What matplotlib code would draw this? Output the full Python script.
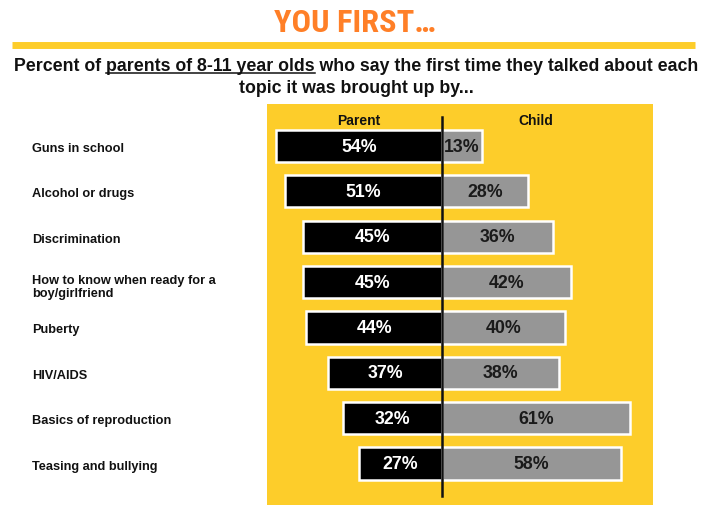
import matplotlib
matplotlib.use("Agg")
import matplotlib.pyplot as plt
from matplotlib import font_manager

# Survey data: who first brought up each topic
topics = [
    "Guns in school",
    "Alcohol or drugs",
    "Discrimination",
    "How to know when ready for a\nboy/girlfriend",
    "Puberty",
    "HIV/AIDS",
    "Basics of reproduction",
    "Teasing and bullying",
]
parent_pct = [54, 51, 45, 45, 44, 37, 32, 27]
child_pct = [13, 28, 36, 42, 40, 38, 61, 58]
column_labels = ["Parent", "Child"]

YELLOW = "#FDCD2A"
ORANGE = "#FF7F27"
GREY = "#969696"
INK = "#111111"

# Pick a condensed family that ships a bold face for the headline
bold_faces = {f.name for f in font_manager.fontManager.ttflist if f.weight in (700, "bold")}
narrow_candidates = ["Liberation Sans Narrow", "Arial Narrow", "Roboto Condensed",
                     "Archivo Narrow", "IBM Plex Sans Condensed", "Fira Sans Condensed",
                     "Barlow Semi Condensed", "Encode Sans Semi Condensed",
                     "PT Sans Narrow", "Pragati Narrow", "Asap Condensed",
                     "Liberation Sans"]
NARROW = next(n for n in narrow_candidates if n in bold_faces)
plt.rcParams["font.family"] = ["Liberation Sans", "DejaVu Sans"]

W, H = 714, 506
fig = plt.figure(figsize=(W / 100, H / 100), dpi=100)
fig.patch.set_facecolor("white")


def fx(px):
    return px / W


def fy(py):
    return 1 - py / H


fig.canvas.draw()
renderer = fig.canvas.get_renderer()

# Headline, sized to span its slot, and the rule beneath it
title = fig.text(fx(354.5), fy(32), "YOU FIRST\u2026", ha="center", va="baseline",
                 fontsize=22, fontweight="bold", color=ORANGE,
                 family=[NARROW, "DejaVu Sans"])
tw = title.get_window_extent(renderer).width
title.set_fontsize(min(max(22 * 161 / tw, 19), 24))
fig.add_artist(plt.Line2D([fx(12), fx(695)], [fy(46), fy(46)], color=YELLOW, lw=5,
                          transform=fig.transFigure, solid_capstyle="butt"))

# Subtitle with underlined phrase
SUB_FS = 12.8
line1 = "Percent of parents of 8-11 year olds who say the first time they talked about each"
line2 = "topic it was brought up by..."
sub_kw = dict(ha="center", va="baseline", fontsize=SUB_FS, fontweight="bold", color=INK)
t1 = fig.text(fx(356), fy(71), line1, **sub_kw)
fig.text(fx(356), fy(93.5), line2, **sub_kw)


def text_width(s):
    tmp = fig.text(0, 0, s, fontsize=SUB_FS, fontweight="bold")
    w = tmp.get_window_extent(renderer).width
    tmp.remove()
    return w


full_w = t1.get_window_extent(renderer).width
left = 356 - full_w / 2
start = left + text_width("Percent of parents") - text_width("parents")
end = left + text_width("Percent of parents of 8-11 year olds")
fig.add_artist(plt.Line2D([fx(start), fx(end)], [fy(73.5), fy(73.5)], color=INK,
                          lw=1.1, transform=fig.transFigure))

# Panel with diverging bars
pitch = 45.37
y0 = 147
ax = fig.add_axes([fx(267), 0, fx(653) - fx(267), fy(105)])
ax.set_facecolor(YELLOW)
ax.set_xlim(-(442 - 267) / 3.08, (653 - 442) / 3.08)
ax.set_ylim((506 - y0) / pitch, (105 - y0) / pitch)
for s in ax.spines.values():
    s.set_visible(False)
ax.set_xticks([])
ax.set_yticks([])

idx = list(range(len(topics)))
ax.barh(idx, [-p for p in parent_pct], height=0.71, color="black",
        edgecolor="white", linewidth=1.8)
ax.barh(idx, child_pct, height=0.71, color=GREY,
        edgecolor="white", linewidth=1.8)

for i, (p, c) in enumerate(zip(parent_pct, child_pct)):
    ax.text(-p / 2, i, f"{p}%", ha="center", va="center", color="white",
            fontsize=12.8, fontweight="bold")
    ax.text(c / 2, i, f"{c}%", ha="center", va="center", color="#1a1a1a",
            fontsize=12.8, fontweight="bold")

ax.plot([0, 0], [(118 - y0) / pitch, (497 - y0) / pitch], color=INK, lw=1.8)

ax.text(-27, (121 - y0) / pitch, column_labels[0], ha="center", va="center",
        fontsize=10, fontweight="bold", color=INK)
ax.text(30.5, (121 - y0) / pitch, column_labels[1], ha="center", va="center",
        fontsize=10, fontweight="bold", color=INK)

# Topic labels
for i, t in enumerate(topics):
    yy = y0 + i * pitch + (4 if "\n" in t else 2)
    fig.text(fx(32), fy(yy), t, ha="left", va="center", fontsize=9.2,
             fontweight="bold", color=INK, linespacing=1.1)

fig.savefig("out.png", dpi=100, facecolor="white")
